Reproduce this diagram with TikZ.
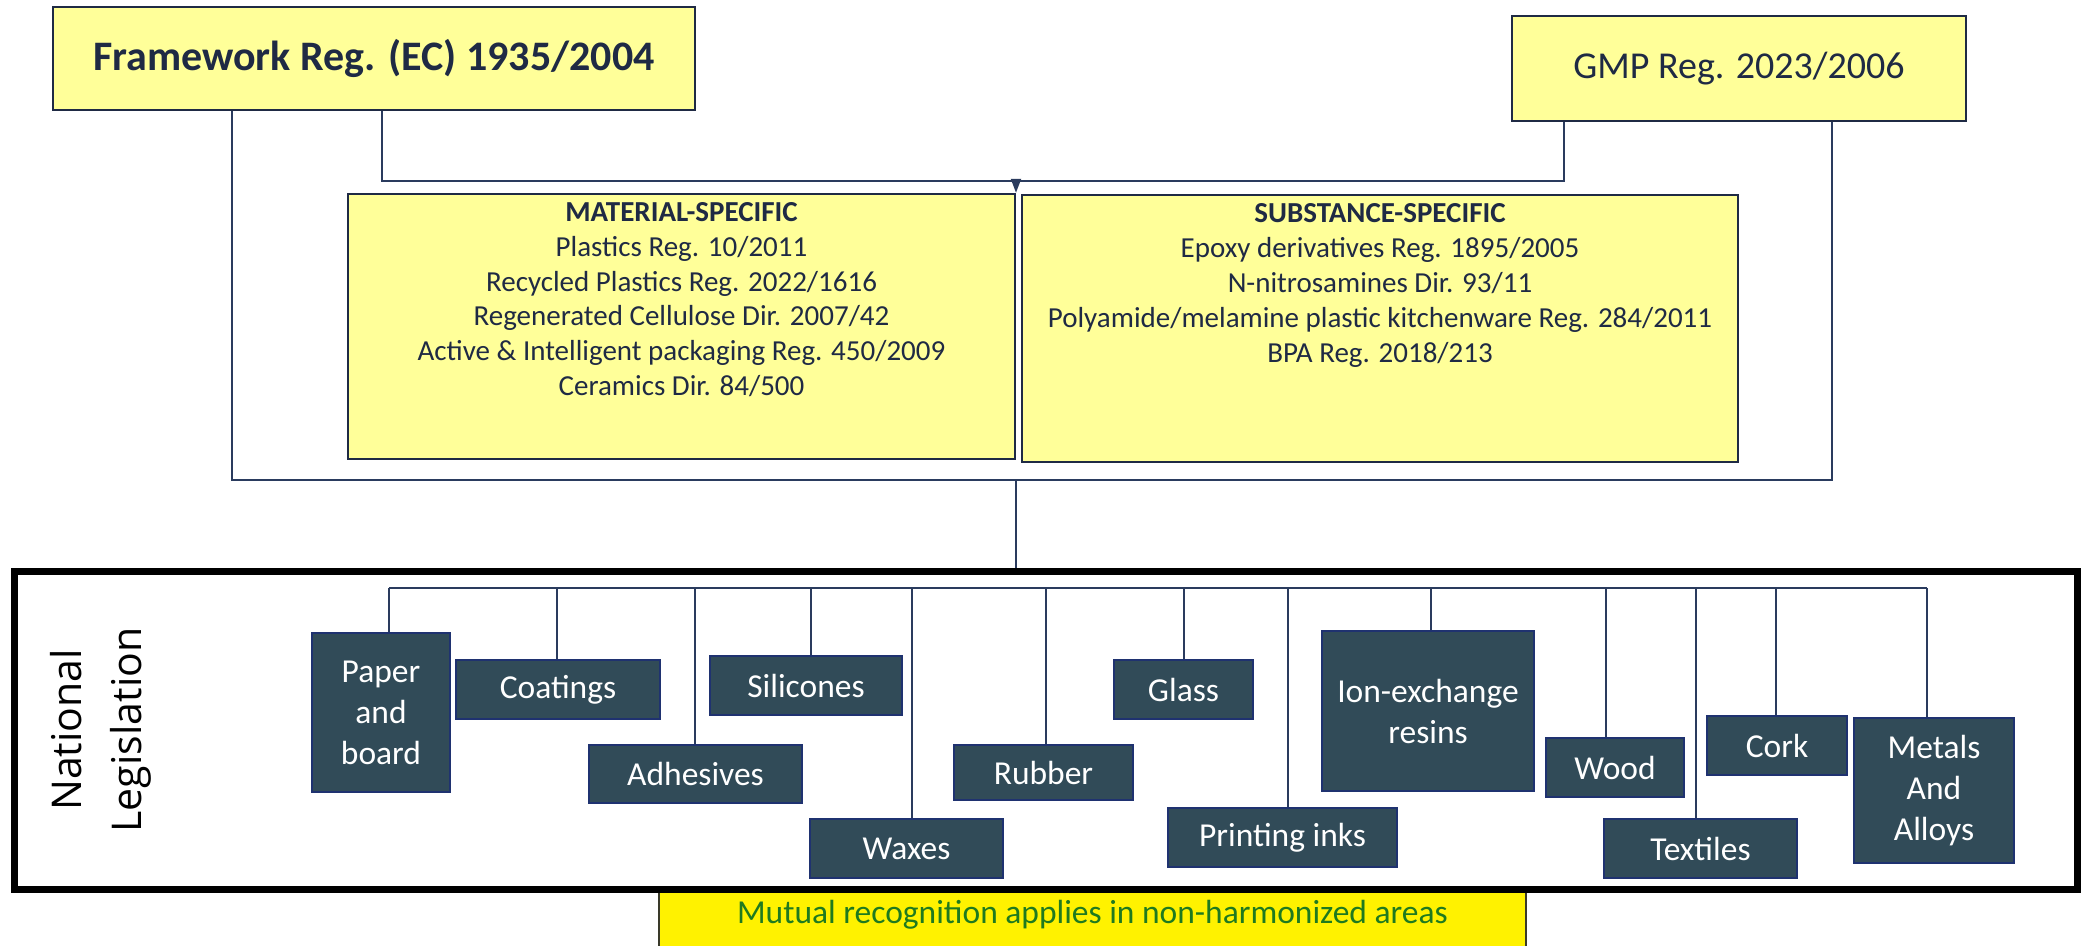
\documentclass[tikz,border=0pt]{standalone}
\usepackage{fontspec}
\setmainfont{Carlito}
\newfontfamily\natfont{Open Sans}
\usetikzlibrary{arrows.meta}
\definecolor{yelfill}{HTML}{FFFF99}
\definecolor{boxline}{HTML}{1F2A44}
\definecolor{navytext}{HTML}{1F2A44}
\definecolor{linec}{HTML}{2A3B5E}
\definecolor{darkfill}{HTML}{314B58}
\definecolor{darkline}{HTML}{1F3270}
\definecolor{mutgreen}{HTML}{1F7A1F}
\definecolor{mutline}{HTML}{3A3A2A}
\begin{document}
\begin{tikzpicture}[x=0.5pt,y=-0.5pt,
  conn/.style={draw=linec, line width=1pt},
  yelbox/.style={draw=boxline, fill=yelfill, line width=1.2pt, inner sep=0pt, text=navytext},
  yeltext/.style={anchor=north, align=center, text=navytext, inner sep=0pt, font=\fontsize{14.5}{17.4}\selectfont},
  darkbox/.style={draw=darkline, fill=darkfill, line width=1pt, text=white, align=center, inner sep=0pt, font=\fontsize{16.75}{20.5}\selectfont},
]
\useasboundingbox (0,0) rectangle (2081,946);
\fill[white] (0,0) rectangle (2081,946);

% top regulation boxes
\node[yelbox, minimum width=321pt, minimum height=51.5pt, font=\bfseries\fontsize{21}{25}\selectfont] (fw) at (374,58.5) {Framework Reg. (EC) 1935/2004};
\node[yelbox, minimum width=227pt, minimum height=52.5pt, font=\fontsize{19}{23}\selectfont] (gmp) at (1739,68.5) {GMP Reg. 2023/2006};

% specific boxes
\node[yelbox, minimum width=333.5pt, minimum height=132.5pt] (mat) at (681.5,326.5) {};
\node[yelbox, minimum width=358pt, minimum height=133.5pt] (sub) at (1380,328.5) {};
\node[yeltext] (mattext) at (681.5,202) {\textbf{MATERIAL-SPECIFIC}\\Plastics Reg. 10/2011\\Recycled Plastics Reg. 2022/1616\\Regenerated Cellulose Dir. 2007/42\\Active \& Intelligent packaging Reg. 450/2009\\Ceramics Dir. 84/500};
\node[yeltext] (subtext) at (1380,203.5) {\textbf{SUBSTANCE-SPECIFIC}\\Epoxy derivatives Reg. 1895/2005\\N-nitrosamines Dir. 93/11\\Polyamide/melamine plastic kitchenware Reg. 284/2011\\BPA Reg. 2018/213};

% connector junctions
\coordinate (top) at (1016,181);
\coordinate (fwa) at (382,181);
\coordinate (gma) at (1564,181);
\coordinate (bot) at (1016,480);
\coordinate (fwb) at (232,480);
\coordinate (gmb) at (1832,480);

\draw[conn] (fw.south -| fwa) -- (fwa) -- (top);
\draw[conn] (gmp.south -| gma) -- (gma) -- (top);
\draw[conn, -{Triangle[length=7pt,width=5pt]}] (top) -- (top |- mat.north);
\draw[conn] (fw.south -| fwb) -- (fwb) -- (bot);
\draw[conn] (gmp.south -| gmb) -- (gmb) -- (bot);

% mutual recognition box
\node[draw=mutline, fill=yellow, line width=0.6pt, anchor=north, minimum width=433.5pt, text height=15.5pt, text depth=30pt, inner ysep=0pt, text=mutgreen, font=\fontsize{16.75}{20}\selectfont] (mut) at (1092.5,892) {Mutual recognition applies in non-harmonized areas};

% national legislation frame
\node[draw=black, line width=3.5pt, minimum width=1031.5pt, minimum height=159pt, inner sep=0pt] (nat) at (1045.5,730) {};
\draw[conn] (bot) -- (bot |- nat.north);
\node[rotate=90, align=center, inner sep=0pt, font=\natfont\fontsize{20.5}{30}\selectfont] (natlabel) at (101,730) {National\\Legislation};

% material boxes
\node[darkbox, minimum width=69pt, minimum height=79.5pt] (paper) at (381,712.5) {Paper\\and\\board};
\node[darkbox, minimum width=102pt, minimum height=29.5pt] (coat) at (558,689.5) {Coatings};
\node[darkbox, minimum width=106.5pt, minimum height=29pt] (adh) at (695.5,774) {Adhesives};
\node[darkbox, minimum width=96pt, minimum height=29.5pt] (sil) at (806,685.5) {Silicones};
\node[darkbox, minimum width=96.5pt, minimum height=29.5pt] (wax) at (906.5,848.5) {Waxes};
\node[darkbox, minimum width=89.5pt, minimum height=27.5pt] (rub) at (1043.5,772.5) {Rubber};
\node[darkbox, minimum width=69.5pt, minimum height=29.5pt] (glass) at (1183.5,689.5) {Glass};
\node[darkbox, minimum width=114.5pt, minimum height=29.5pt] (print) at (1282.5,837.5) {Printing inks};
\node[darkbox, minimum width=106pt, minimum height=80pt] (ion) at (1428,711) {Ion-exchange\\resins};
\node[darkbox, minimum width=69pt, minimum height=29.5pt] (wood) at (1615,767.5) {Wood};
\node[darkbox, minimum width=96.5pt, minimum height=29.5pt] (textl) at (1700.5,848.5) {Textiles};
\node[darkbox, minimum width=70pt, minimum height=29.5pt] (cork) at (1777,745.5) {Cork};
\node[darkbox, minimum width=80pt, minimum height=72.5pt] (metal) at (1934,790.5) {Metals\\And\\Alloys};

% bus and drops
\coordinate (busL) at (389,588);
\coordinate (busR) at (1927,588);
\draw[conn] (busL) -- (busR);
\foreach \n/\x in {paper/389, coat/557, adh/695, sil/811, wax/912, rub/1046, glass/1184, print/1288, ion/1431, wood/1606, textl/1696, cork/1776, metal/1927}
  \draw[conn] (\x,588) -- (\x,0 |- \n.north);
\end{tikzpicture}
\end{document}
